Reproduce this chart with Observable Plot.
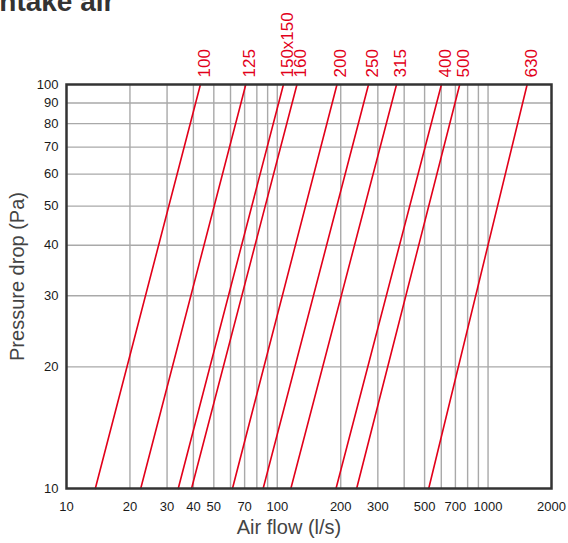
<!DOCTYPE html>
<html><head><meta charset="utf-8">
<script src="https://cdn.jsdelivr.net/npm/d3@7"></script>
<script src="https://cdn.jsdelivr.net/npm/@observablehq/plot@0.6"></script>
<style>
body{margin:0;background:#fff;font-family:"Liberation Sans",Arial,sans-serif;}
#wrap{position:relative;width:568px;height:543px;overflow:hidden;background:#fff;}
#chart{position:absolute;left:0;top:0;}
#title{position:absolute;left:-8.5px;top:-14px;font-size:28px;font-weight:bold;color:#333;white-space:nowrap;line-height:32px;}
</style></head><body>
<div id="wrap"><div id="chart"></div><div id="title">Intake air</div></div>
<script>
// Duct sizes (labels) and air flow (l/s) where each line meets 10 Pa and 100 Pa
const sizes = ["100", "125", "150x150", "160", "200", "250", "315", "400", "500", "630"];
const flowAt10Pa = [13.7, 22.5, 33.9, 39.2, 61.3, 85.7, 116, 190, 238, 523];
const flowAt100Pa = [43.2, 70.9, 107, 124, 192, 271, 368, 601, 734, 1533];
const pressureEnds = [10, 100];

const xTicks = [10, 20, 30, 40, 50, 70, 100, 200, 300, 500, 700, 1000, 2000];
const xGrid = [20, 30, 40, 50, 60, 70, 80, 90, 100, 200, 300, 400, 500, 600, 700, 800, 900, 1000];
const yTicks = [10, 20, 30, 40, 50, 60, 70, 80, 90, 100];
const yGrid = [20, 30, 40, 50, 60, 70, 80, 90];

const lineData = sizes.flatMap((s, i) => [
  {size: s, q: flowAt10Pa[i], p: pressureEnds[0]},
  {size: s, q: flowAt100Pa[i], p: pressureEnds[1]}
]);
const topData = sizes.map((s, i) => ({size: s, q: flowAt100Pa[i], p: pressureEnds[1]}));

const font = '"Liberation Sans", Arial, Helvetica, sans-serif';
const chart = Plot.plot({
  width: 568,
  height: 543,
  marginLeft: 66,
  marginRight: 17,
  marginTop: 84,
  marginBottom: 55,
  style: {fontFamily: font, fontSize: "13px", color: "#1a1a1a", background: "transparent", overflow: "visible"},
  x: {type: "log", domain: [10, 2000], axis: null},
  y: {type: "log", domain: [10, 100], axis: null},
  marks: [
    Plot.ruleX(xGrid, {stroke: "#a9a9a9", strokeWidth: 1.4}),
    Plot.ruleY(yGrid, {stroke: "#a9a9a9", strokeWidth: 1.4}),
    Plot.text(xTicks, {x: d => d, frameAnchor: "bottom", lineAnchor: "middle", dy: 18, text: d => String(d), fontSize: 13, fill: "#1a1a1a"}),
    Plot.text(yTicks, {y: d => d, frameAnchor: "left", textAnchor: "end", lineAnchor: "middle", dx: -8, text: d => String(d), fontSize: 13, fill: "#1a1a1a"}),
    Plot.line(lineData, {x: "q", y: "p", z: "size", stroke: "#e2001a", strokeWidth: 1.6}),
    Plot.text(topData, {x: "q", y: "p", text: "size", rotate: -90, textAnchor: "start", dx: 4, dy: -7, fill: "#e2001a", fontSize: 17}),
    Plot.text(["Air flow (l/s)"], {frameAnchor: "bottom", textAnchor: "middle", lineAnchor: "middle", dx: -20, dy: 39, fontSize: 20, fill: "#444"}),
    Plot.text(["Pressure drop (Pa)"], {frameAnchor: "left", textAnchor: "middle", lineAnchor: "middle", rotate: -90, dx: -49, dy: -10, fontSize: 20, fill: "#444"}),
    Plot.frame({stroke: "#333", strokeWidth: 2.5})
  ]
});
document.getElementById("chart").appendChild(chart);
</script>
</body></html>
